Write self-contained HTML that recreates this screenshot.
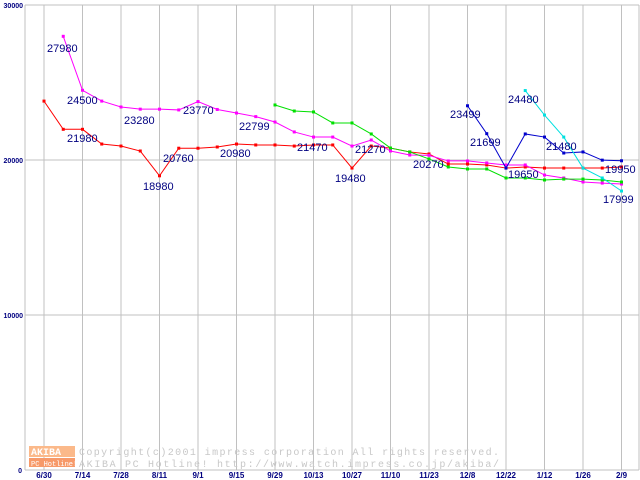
<!DOCTYPE html>
<html><head><meta charset="utf-8"><style>
body{margin:0;background:#fff}
svg{display:block;font-family:"Liberation Sans",sans-serif}
</style></head><body>
<svg id="chart" width="640" height="480" viewBox="0 0 640 480" xmlns="http://www.w3.org/2000/svg">
<rect width="640" height="480" fill="#fff"/>
<g id="grid"></g>
<g id="wm">
<rect x="29" y="446" width="46" height="11" fill="#fbb98a"/>
<text x="31" y="455" font-size="10" fill="#fff" font-weight="bold" font-family="Liberation Mono,monospace">AKIBA</text>
<rect x="29" y="458" width="46" height="9" fill="#f79a6a"/>
<text x="31" y="466" font-size="7" fill="#fff" font-family="Liberation Mono,monospace">PC Hotline!</text>
<text x="79" y="455" font-size="10" fill="#c8c8c8" font-family="Liberation Mono,monospace" textLength="420">Copyright(c)2001 impress corporation All rights reserved.</text>
<text x="79" y="467" font-size="10" fill="#c8c8c8" font-family="Liberation Mono,monospace" textLength="420">AKIBA PC Hotline!  http://www.watch.impress.co.jp/akiba/</text>
</g>
<g id="series"></g>
<g id="labels"></g>
</svg>
<script>
const xLabels=["6/30","7/14","7/28","8/11","9/1","9/15","9/29","10/13","10/27","11/10","11/23","12/8","12/22","1/12","1/26","2/9"];
const yTicks=[0,10000,20000,30000];
const redStart=0;
const redValues=[23800,21980,21980,21030,20900,20580,18980,20760,20760,20840,21030,20970,20970,20900,20970,20970,19480,20900,20770,20520,20390,19740,19740,19680,19480,19550,19480,19480,19480,19480,19550];
const magentaStart=1;
const magentaValues=[27980,24500,23800,23420,23280,23280,23230,23770,23260,23030,22799,22450,21810,21480,21480,20900,21290,20580,20320,20300,19940,19940,19810,19680,19680,19030,18840,18580,18510,18450];
const greenStart=12;
const greenValues=[23550,23160,23100,22390,22390,21680,20770,20520,20070,19550,19420,19420,18840,18840,18710,18770,18770,18710,18580];
const blueStart=22;
const blueValues=[23499,21699,19480,21680,21480,20450,20520,19990,19950];
const cyanStart=25;
const cyanValues=[24480,22900,21480,19480,18840,17999];
const valueLabels=["27980","24500","21980","23280","23770","20760","18980","20980","22799","21470","19480","21270","20270","23499","21699","24480","21480","19650","19950","17999"];
const labelX=[47,67,67,124,183,163,143,220,239,297,335,355,413,450,470,508,546,508,605,603];
const labelY=[52,104,142,124,114,162,190,157,130,151,182,153,168,118,146,103,150,178,173,203];
const NS="http://www.w3.org/2000/svg";
const xs=i=>44+i*19.25;
const ys=v=>470-v*465/30000;
function mk(t,a,p){const e=document.createElementNS(NS,t);for(const k in a)e.setAttribute(k,a[k]);p.appendChild(e);return e;}
const grid=document.getElementById('grid');
xLabels.forEach((l,i)=>{
 const x=xs(i*2);
 mk('line',{x1:x,y1:5,x2:x,y2:470,stroke:'#c0c0c0','stroke-width':1},grid);
 const t=mk('text',{x:x,y:478,'font-size':8,'font-weight':'bold',fill:'#000080','text-anchor':'middle'},grid);
 t.textContent=l;
 
 
});
mk('line',{x1:639,y1:5,x2:639,y2:470,stroke:'#c0c0c0'},grid);
mk('line',{x1:25,y1:5,x2:25,y2:470,stroke:'#c0c0c0'},grid);
yTicks.forEach(v=>{
 const y=ys(v);
 mk('line',{x1:25,y1:y,x2:639,y2:y,stroke:'#c0c0c0'},grid);
 const t=mk('text',{x:v==0?22:23,y:y+3,'font-size':7,'font-weight':'bold',fill:'#000080','text-anchor':'end'},grid);
 t.textContent=v;
 
 
});
const sg=document.getElementById('series');
function draw(start,vals,color,name){
 const g=mk('g',{},sg);
 
 
 mk('polyline',{points:vals.map((v,i)=>xs(start+i)+','+ys(v)).join(' '),fill:'none',stroke:color,'stroke-width':1},g);
 vals.forEach((v,i)=>{
  const r=mk('rect',{x:xs(start+i)-1.5,y:ys(v)-1.5,width:3,height:3,fill:color},g);
  
  
 });
}
draw(redStart,redValues,'#ff0000','series-red');
draw(magentaStart,magentaValues,'#ff00ff','series-magenta');
draw(greenStart,greenValues,'#00e000','series-green');
draw(blueStart,blueValues,'#0000cc','series-blue');
draw(cyanStart,cyanValues,'#00e0e0','series-cyan');
const lg=document.getElementById('labels');
valueLabels.forEach((l,i)=>{
 const t=mk('text',{x:labelX[i],y:labelY[i],'font-size':11,fill:'#000080'},lg);
 t.textContent=l;
 
 
});
</script>
</body></html>
